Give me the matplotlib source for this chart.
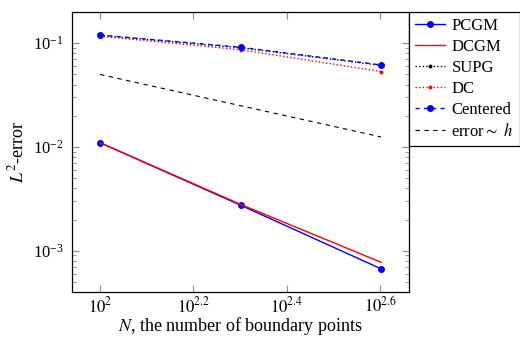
import matplotlib
matplotlib.use('Agg')
import matplotlib.pyplot as plt
from matplotlib.ticker import FixedLocator, FixedFormatter, LogLocator, NullFormatter, NullLocator

plt.rcParams['font.family'] = ['Liberation Serif', 'DejaVu Serif']
plt.rcParams['mathtext.fontset'] = 'stix'

# data (log-log convergence study)
n_points = [100, 200, 400]
err_pcgm = [0.0110, 0.00275, 0.00067]
err_dcgm = [0.0110, 0.00280, 0.000775]
err_supg = [0.119, 0.0905, 0.0612]
err_dc = [0.117, 0.0865, 0.0534]
err_centered = [0.120, 0.0915, 0.0618]
err_ref_h = [0.050, 0.025, 0.0125]

x_ticks = [10**2, 10**2.2, 10**2.4, 10**2.6]
x_tick_labels = [r'$10^{2}$', r'$10^{2.2}$', r'$10^{2.4}$', r'$10^{2.6}$']

fig = plt.figure(figsize=(5.2, 3.38), dpi=100)
ax = fig.add_axes([0.1385, 0.136, 0.648, 0.8285])

lw = 1.0
ax.plot(n_points, err_pcgm, color='blue', lw=lw, marker='o', ms=4, label='PCGM')
ax.plot(n_points, err_dcgm, color='red', lw=lw, label='DCGM')
ax.plot(n_points, err_supg, color='black', lw=lw, ls=(0, (1, 1.6)), marker='o', ms=1.8,
        label='SUPG')
ax.plot(n_points, err_dc, color='red', lw=lw, ls=(0, (1, 1.6)), marker='o', ms=1.8,
        label='DC')
ax.plot(n_points, err_centered, color='blue', lw=lw, ls=(0, (3, 3)), marker='o', ms=4,
        label='Centered')
ax.plot(n_points, err_ref_h, color='black', lw=0.8, ls=(0, (4, 4)),
        label=r'error$\sim$ $h$')

ax.set_xscale('log')
ax.set_yscale('log')
ax.set_xlim(10**1.94, 10**2.662)
ax.set_ylim(4e-4, 0.2)

ax.xaxis.set_major_locator(FixedLocator(x_ticks))
ax.xaxis.set_major_formatter(FixedFormatter(x_tick_labels))
ax.xaxis.set_minor_locator(NullLocator())
ax.yaxis.set_major_locator(LogLocator(base=10))
ax.yaxis.set_minor_locator(LogLocator(base=10, subs=range(2, 10)))
ax.yaxis.set_minor_formatter(NullFormatter())

ax.tick_params(which='both', direction='in', top=True, right=True,
               color='0.55', labelsize=12)
ax.tick_params(axis='y', pad=6)
ax.tick_params(axis='x', pad=3)
ax.tick_params(which='major', length=5, width=0.8)
ax.tick_params(which='minor', length=3, width=0.6)
for sp in ax.spines.values():
    sp.set_linewidth(0.9)

ax.set_xlabel(r'$N$, the number of boundary points', fontsize=13, labelpad=-1)
ax.set_ylabel(r'$L^2$-error', fontsize=13, labelpad=4)

leg = ax.legend(loc='upper left', bbox_to_anchor=(1.0, 1.0), borderaxespad=0,
                fancybox=False, edgecolor='black', framealpha=1, fontsize=12,
                handlelength=1.8, handletextpad=0.4, labelspacing=0.3,
                borderpad=0.35, numpoints=1)
leg.get_frame().set_linewidth(0.9)

fig.savefig('out.png', dpi=100)
